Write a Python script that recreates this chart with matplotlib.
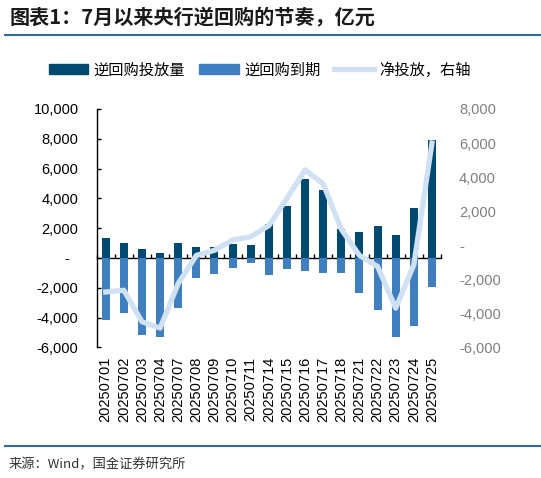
import matplotlib
matplotlib.use('Agg')
import matplotlib.pyplot as plt
from matplotlib.lines import Line2D
from matplotlib.patches import Patch
import numpy as np

dates = ['20250701', '20250702', '20250703', '20250704', '20250707', '20250708',
         '20250709', '20250710', '20250711', '20250714', '20250715', '20250716',
         '20250717', '20250718', '20250721', '20250722', '20250723', '20250724',
         '20250725']
put = [1345, 1030, 630, 315, 1030, 740, 740, 940, 850, 2245, 3475, 5295,
       4575, 1930, 1750, 2155, 1550, 3365, 7920]
expire = [-4195, -3680, -5205, -5315, -3390, -1370, -1055, -650, -360, -1165,
          -765, -875, -985, -985, -2380, -3500, -5315, -4600, -1975]
net = [-2750, -2650, -4500, -4870, -2250, -600, -300, 300, 500, 1150, 2750,
       4420, 3600, 930, -600, -1250, -3700, -1150, 6000]

left_ticks = list(range(-6000, 10001, 2000))
right_ticks = list(range(-6000, 8001, 2000))

C_PUT = '#004A72'
C_EXP = '#3F7FBF'
C_NET = '#CFE1F2'
C_RULE = '#2F6B92'

plt.rcParams['font.family'] = ['Liberation Sans', 'Noto Sans CJK SC', 'DejaVu Sans']
CJK = ['Noto Sans CJK SC', 'DejaVu Sans']

def fmt(v):
    return '-  ' if v == 0 else f'{v:,}'

def fmt_r(v):
    return '-' if v == 0 else f'{v:,}'

fig = plt.figure(figsize=(5.41, 4.78), dpi=100)
ax = fig.add_axes([0.1787, 0.2734, 0.6365, 0.4986])
x = np.arange(len(dates))
ax.bar(x, put, width=0.44, color=C_PUT, zorder=2)
ax.bar(x, expire, width=0.44, color=C_EXP, zorder=2)
ax.set_xlim(-0.5, len(dates) - 0.5)
ax.set_ylim(-6000, 10000)
ax.set_yticks(left_ticks)
ax.set_yticklabels([fmt(v) for v in left_ticks])
ax.set_xticks(x)
ax.set_xticklabels(dates, rotation=90)
for s in ['top', 'right', 'bottom']:
    ax.spines[s].set_visible(False)
ax.spines['left'].set_linewidth(1.0)
ax.tick_params(axis='y', direction='in', length=3, width=1, pad=13,
               labelsize=10.5, colors='black')
ax.tick_params(axis='x', length=0, pad=7, labelsize=10.5)

# zero axis with boundary ticks
sec = ax.secondary_xaxis((0 - (-6000)) / 16000)
sec.set_xticks(np.arange(-0.5, len(dates), 1.0))
sec.tick_params(direction='in', length=3, width=1, labelbottom=False)
sec.spines['bottom'].set_linewidth(1.0)

ax2 = ax.twinx()
ax2.plot(x, net, color=C_NET, lw=3.8, solid_joinstyle='round', zorder=3)
ax2.set_ylim(-6000, 8000)
ax2.set_yticks(right_ticks)
ax2.set_yticklabels([fmt_r(v) for v in right_ticks])
for s in ax2.spines.values():
    s.set_visible(False)
ax2.tick_params(axis='y', length=0, pad=13, labelsize=10.5, labelcolor='#7F7F7F')

# title
fig.text(0.018, 0.963, '图表1：7月以来央行逆回购的节奏，亿元', family=CJK,
         fontsize=14.5, fontweight='bold', color='#1A1A1A', va='center', ha='left')
fig.add_artist(Line2D([0.01, 1.0], [1 - 35 / 478, 1 - 35 / 478],
                      color=C_RULE, lw=1.5, transform=fig.transFigure))
fig.add_artist(Line2D([0.01, 1.0], [1 - 446 / 478, 1 - 446 / 478],
                      color=C_RULE, lw=1.5, transform=fig.transFigure))
fig.text(0.015, 1 - 465 / 478, '来源：Wind，国金证券研究所', family=CJK,
         fontsize=9.5, color='#333333', va='center', ha='left')

handles = [Patch(color=C_PUT), Patch(color=C_EXP),
           Line2D([], [], color=C_NET, lw=3.8)]
labels = ['逆回购投放量', '逆回购到期', '净投放，右轴']
leg = fig.legend(handles, labels, loc='center', bbox_to_anchor=(0.48, 1 - 70 / 478),
                 ncol=3, frameon=False, prop={'family': CJK, 'size': 11},
                 handlelength=2.6, handleheight=0.65, handletextpad=0.35,
                 columnspacing=0.9)

fig.savefig('out.png', dpi=100)
